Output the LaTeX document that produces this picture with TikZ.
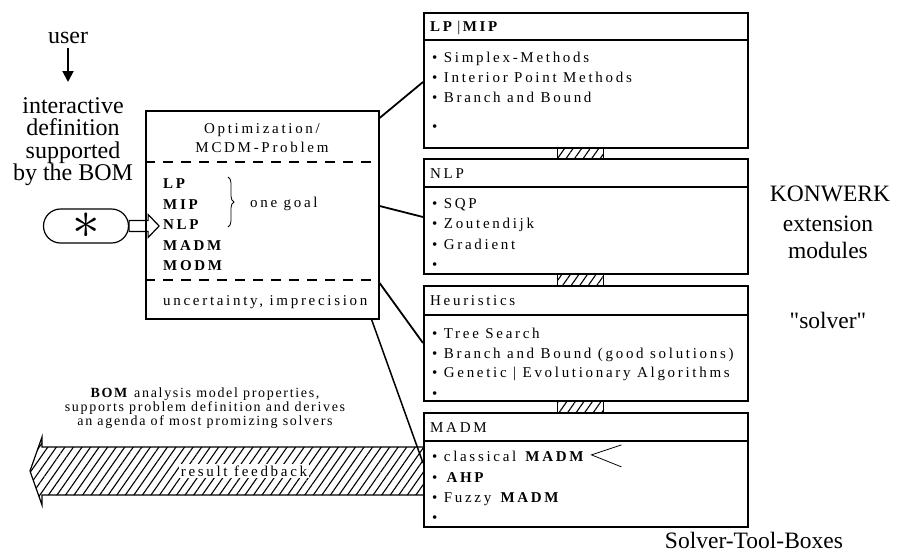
\documentclass[tikz,border=0pt]{standalone}
\usepackage{fontspec}
\setmainfont{Liberation Serif}
\newfontfamily\boxfont[LetterSpace=18]{Liberation Serif}
\newfontfamily\bomfont[LetterSpace=12]{Liberation Serif}
\usetikzlibrary{patterns.meta,decorations.pathreplacing,arrows.meta,shapes.misc}
\tikzset{
  sbox/.style={draw, line width=1.6pt, anchor=north west, inner sep=0pt},
  hline/.style={line width=1.2pt},
  conn/.style={line width=1.8pt},
  item/.style={anchor=base west, inner sep=0pt, font=\boxfont\fontsize{15}{18}\selectfont},
  ctext/.style={anchor=base, inner sep=0pt, font=\boxfont\fontsize{15}{18}\selectfont},
  big/.style={inner sep=0pt, font=\fontsize{23.5}{25}\selectfont},
  hatch/.style={pattern={Lines[angle=55,distance=7pt,line width=1.1pt]}},
}
\begin{document}
\begin{tikzpicture}[x=1pt,y=-1pt]
\useasboundingbox (0,0) rectangle (897,552);
\fill[white] (0,0) rectangle (897,552);

% left texts
\node[big, anchor=base, font=\fontsize{24}{25}\selectfont] (user) at (68,43) {user};
\node[big, anchor=north, align=center, font=\fontsize{24}{22.5}\selectfont] (inter) at (73,97) {interactive\\definition\\supported\\by the BOM};
\draw[line width=2pt, -{Triangle[width=11pt,length=11pt]}] (68,48) -- (68,82);

% right boxes
\node[sbox, minimum width=324, minimum height=135] (b1) at (423,12) {};
\node[sbox, minimum width=324, minimum height=115] (b2) at (423,158) {};
\node[sbox, minimum width=324, minimum height=115] (b3) at (423,285) {};
\node[sbox, minimum width=324, minimum height=114] (b4) at (423,412) {};
\draw[hline] (423,40) -- (747,40);
\draw[hline] (423,187) -- (747,187);
\draw[hline] (423,315) -- (747,315);
\draw[hline] (423,441) -- (747,441);

% hatched links
\foreach \a/\b in {147/158, 273/285, 400/412}
  \draw[hatch, line width=0.8pt] (557,\a) rectangle (603,\b);

% box texts
\node[item] (h1) at (430,31.5) {\textbf{LP}\,|\,\textbf{MIP}};
\node[item] (i11) at (432,62) {• Simplex-Methods};
\node[item] (i12) at (432,82) {• Interior Point Methods};
\node[item] (i13) at (432,102) {• Branch and Bound};
\node[item] (i14) at (432,131) {•};

\node[item] (h2) at (430,178) {NLP};
\node[item] (i21) at (432,208) {• SQP};
\node[item] (i22) at (432,228) {• Zoutendijk};
\node[item] (i23) at (432,249) {• Gradient};
\node[item] (i24) at (432,269) {•};

\node[item] (h3) at (430,305.5) {Heuristics};
\node[item] (i31) at (432,338) {• Tree Search};
\node[item] (i32) at (432,358) {• Branch and Bound (good solutions)};
\node[item] (i33) at (432,377) {• Genetic | Evolutionary Algorithms};
\node[item] (i34) at (432,398) {•};

\node[item] (h4) at (430,432) {MADM};
\node[item] (i41) at (432,461) {• classical \textbf{MADM}};
\node[item] (i42) at (432,482) {• \textbf{AHP}};
\node[item] (i43) at (432,502) {• Fuzzy \textbf{MADM}};
\node[item] (i44) at (432,522) {•};
\coordinate (chev) at ([xshift=5pt,yshift=1pt]i41.east);
\draw[line width=0.8pt] ([shift={(30,-10)}]chev) -- (chev) -- ([shift={(30,12)}]chev);

% star pill and hollow arrow
\node[draw, rounded rectangle, minimum width=85, minimum height=34, line width=1.2pt, inner sep=0pt] (star) at (86,226) {\raisebox{-6pt}{\scalebox{5.5}{$\ast$}}};
\draw[line width=1.2pt, fill=white] (star.east) ++(0,-5.5) -- ++(19,0) -- ++(0,-6) -- ++(11,11.5) -- ++(-11,11.5) -- ++(0,-6) -- ++(-19,0) -- cycle;

% central box
\node[sbox, minimum width=233, minimum height=208] (cb) at (145,110) {};
\draw[line width=1.2pt, dash pattern=on 10pt off 8pt] (145,162) -- (378,162);
\draw[line width=1.2pt, dash pattern=on 10pt off 8pt] (145,280) -- (378,280);
\node[ctext] (t1) at (262,133) {Optimization/};
\node[ctext] (t2) at (262,152) {MCDM-Problem};
\node[item] (c1) at (163,188) {\textbf{LP}};
\node[item] (c2) at (163,209) {\textbf{MIP}};
\node[item] (c3) at (163,229) {\textbf{NLP}};
\node[item] (c4) at (163,250) {\textbf{MADM}};
\node[item] (c5) at (163,270) {\textbf{MODM}};
\node[item] (goal) at (250,207) {one goal};
\draw[decorate, decoration={brace, amplitude=6pt}, line width=0.8pt] (228,177) -- (228,227);
\node[item] (unc) at (163,305) {uncertainty, imprecision};

% connectors
\draw[conn] ([yshift=-8pt]cb.north east) -- ([yshift=-70pt]b1.north west);
\draw[conn] ([yshift=-96pt]cb.north east) -- ([yshift=-59pt]b2.north west);
\draw[conn] ([yshift=-173pt]cb.north east) -- ([yshift=-58pt]b3.north west);

% feedback arrow
\path[hatch] (423,447) -- (42,447) -- (42,437) -- (30,471) -- (42,505) -- (42,495) -- (423,495) -- cycle;
\draw[line width=1.2pt] (423,447) -- (42,447) -- (42,437) -- (30,471) -- (42,505) -- (42,495) -- (423,495);
\node[item, anchor=center, fill=white, inner sep=2pt] (fb) at (244,471) {result feedback};
\draw[conn, line width=1.5pt] ([xshift=-8pt]cb.south east) -- ([yshift=-51pt]b4.north west);

% BOM text
\node[anchor=north, align=center, inner sep=0pt, font=\bomfont\fontsize{14}{14}\selectfont] (bom) at (205,388) {\textbf{BOM} analysis model properties,\\supports problem definition and derives\\an agenda of most promizing solvers};

% right texts
\node[big, anchor=base] (konw) at (830,201) {KONWERK};
\node[big, anchor=base] (ext) at (828,231) {extension};
\node[big, anchor=base] (mod) at (828,258) {modules};
\node[big, anchor=base] (solv) at (828,328) {\textquotedbl solver\textquotedbl};
\node[big, anchor=base] (stb) at (754,548) {Solver-Tool-Boxes};
\end{tikzpicture}
\end{document}
